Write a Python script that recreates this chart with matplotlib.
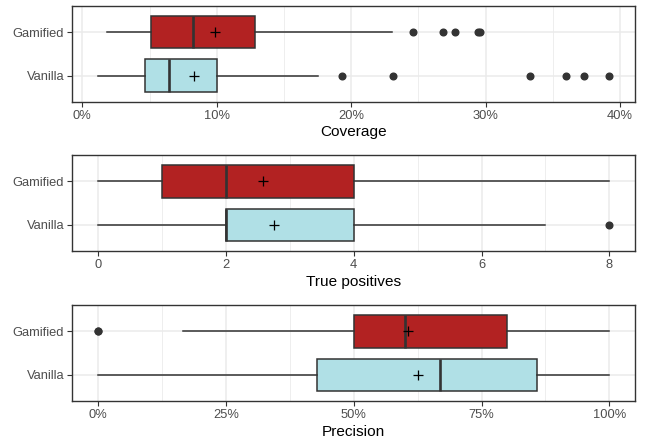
import matplotlib.pyplot as plt
from matplotlib.ticker import FuncFormatter, MultipleLocator

plt.rcParams['font.family'] = ['Liberation Sans', 'DejaVu Sans']

groups = ['Vanilla', 'Gamified']
fills = {'Gamified': '#B22222', 'Vanilla': '#B0E0E6'}

# Coverage (percent): whisker low, Q1, median, Q3, whisker high, mean, outliers
cov_stats = {
    'Gamified': [1.86, 5.09, 8.2, 12.85, 23.04, 9.89],
    'Vanilla': [1.16, 4.65, 6.46, 10.0, 17.5, 8.28],
}
cov_out = {
    'Gamified': [24.56, 26.8, 27.7, 29.4, 29.6],
    'Vanilla': [19.3, 23.09, 33.3, 36.0, 37.3, 39.2],
}

# True positives
tp_stats = {
    'Gamified': [0, 1, 2, 4, 8, 2.59],
    'Vanilla': [0, 2, 2, 4, 7, 2.76],
}
tp_out = {
    'Gamified': [],
    'Vanilla': [8],
}

# Precision (percent)
prec_stats = {
    'Gamified': [16.7, 50.0, 60.0, 80.0, 100.0, 60.6],
    'Vanilla': [0.0, 42.9, 66.8, 85.8, 100.0, 62.5],
}
prec_out = {
    'Gamified': [0.0, 0.0],
    'Vanilla': [],
}

panels = [
    ('Coverage', cov_stats, cov_out, [0, 10, 20, 30, 40], 5, True),
    ('True positives', tp_stats, tp_out, [0, 2, 4, 6, 8], 1, False),
    ('Precision', prec_stats, prec_out, [0, 25, 50, 75, 100], 12.5, True),
]

fig = plt.figure(figsize=(6.49, 4.41), dpi=100)
bottoms = [0.7694, 0.4308, 0.0907]

for (title, stats, outs, ticks, minor, pct), b in zip(panels, bottoms):
    ax = fig.add_axes([0.1114, b, 0.867, 0.217])
    bxp_stats = []
    for g in groups:
        lo, q1, med, q3, hi, mean = stats[g]
        bxp_stats.append(dict(whislo=lo, q1=q1, med=med, q3=q3, whishi=hi,
                              mean=mean, fliers=outs[g], label=g))
    res = ax.bxp(bxp_stats, positions=[1, 2], widths=0.75, orientation='horizontal',
                 patch_artist=True, showmeans=True, showcaps=False,
                 boxprops=dict(edgecolor='#333333', linewidth=1.1),
                 whiskerprops=dict(color='#333333', linewidth=1.1),
                 medianprops=dict(color='#333333', linewidth=1.9),
                 meanprops=dict(marker='+', markeredgecolor='black', markersize=7,
                                markeredgewidth=0.9),
                 flierprops=dict(marker='o', markerfacecolor='#333333',
                                 markeredgecolor='#333333', markersize=4.8))
    for patch, g in zip(res['boxes'], groups):
        patch.set_facecolor(fills[g])
        patch.set_zorder(2)

    # data range incl. outliers, with 5% expansion like ggplot
    vals = [v for g in groups for v in stats[g][:5] + outs[g]]
    lo, hi = min(vals), max(vals)
    pad = (hi - lo) * 0.05
    ax.set_xlim(lo - pad, hi + pad)
    ax.set_ylim(0.4, 2.6)

    ax.set_xticks(ticks)
    ax.xaxis.set_minor_locator(MultipleLocator(minor))
    if pct:
        ax.xaxis.set_major_formatter(FuncFormatter(lambda v, p: '%d%%' % round(v)))
    ax.set_yticks([1, 2])
    ax.set_yticklabels(groups)

    ax.grid(True, which='major', color='#EBEBEB', linewidth=1.1, zorder=0)
    ax.grid(True, which='minor', axis='x', color='#EBEBEB', linewidth=0.6, zorder=0)
    ax.set_axisbelow(True)
    ax.tick_params(which='major', length=3.3, width=0.8, color='#333333',
                   labelsize=9.3, labelcolor='#4D4D4D', pad=2.5)
    ax.tick_params(which='minor', length=0)
    for s in ax.spines.values():
        s.set_color('#333333')
        s.set_linewidth(1.0)
    ax.set_xlabel(title, fontsize=11.1, color='black', labelpad=2.5)

fig.savefig('out.png', dpi=100)
